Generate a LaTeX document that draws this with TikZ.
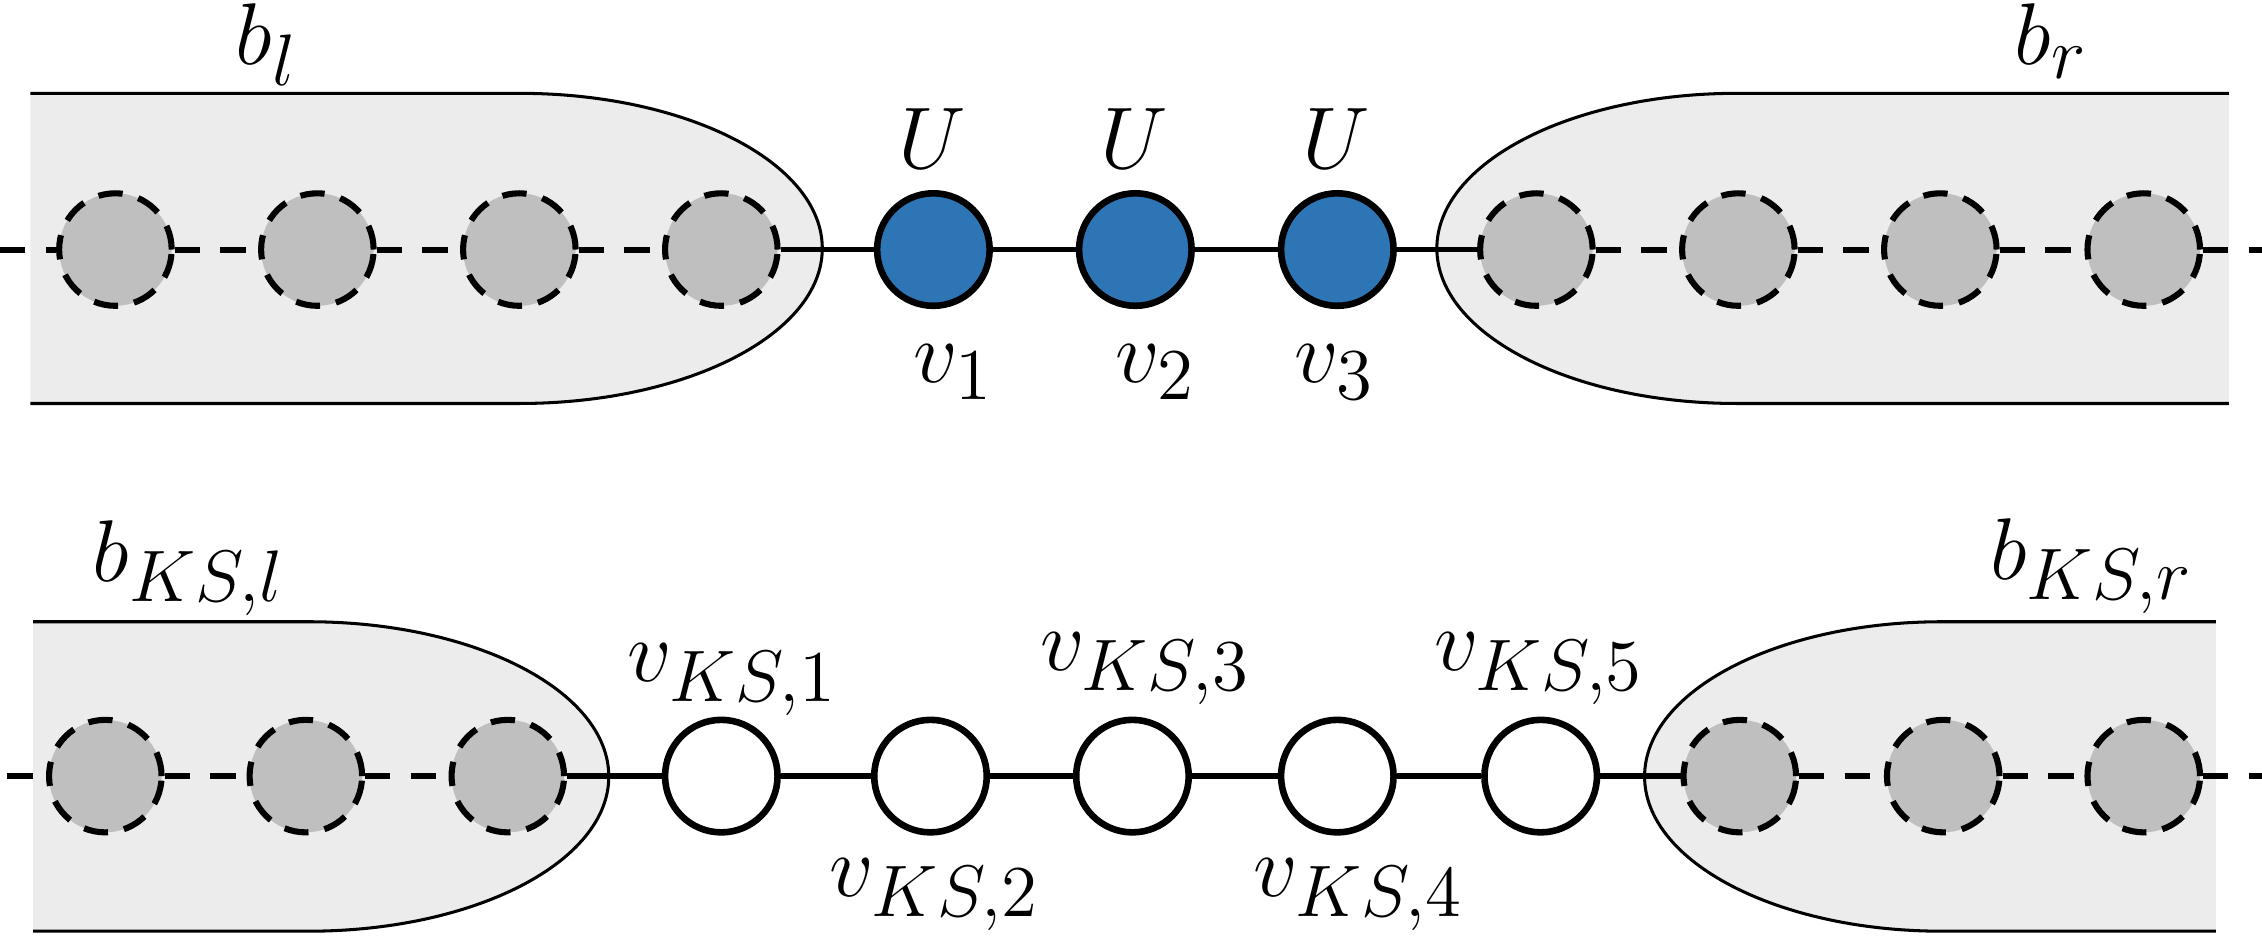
\documentclass[tikz,border=0pt]{standalone}
\usepackage{amsmath}
\usepackage{tikz}
\usetikzlibrary{calc}
\definecolor{siteblue}{HTML}{2E75B6}
\definecolor{bathgray}{HTML}{ECECEC}
\definecolor{ghostgray}{HTML}{BFBFBF}

\begin{document}
\begin{tikzpicture}[
	font=\fontsize{19}{23}\selectfont,
	bath/.style={fill=bathgray, draw=black, line width=0.6pt},
	ghost/.style={circle, minimum size=0.78cm, inner sep=0pt, fill=ghostgray, draw=black, line width=1.2pt, dash pattern=on 4.8pt off 3.2pt},
	imp/.style={circle, minimum size=0.78cm, inner sep=0pt, fill=siteblue, draw=black, line width=1.3pt},
	ks/.style={circle, minimum size=0.78cm, inner sep=0pt, fill=white, draw=black, line width=1.3pt},
	bond/.style={line width=1.1pt},
	dbond/.style={line width=1.2pt, dash pattern=on 5pt off 4pt},
	lab/.style={anchor=base}
	]
	
	\useasboundingbox (0,0) rectangle (15.68,6.5);
	
	% baths
	\draw[bath] (0.21,5.853) -- (3.60,5.853) arc[start angle=90, end angle=-90, x radius=2.10, y radius=1.075] -- (0.21,3.703);
	\draw[bath] (15.45,5.853) -- (12.04,5.853) arc[start angle=90, end angle=270, x radius=2.08, y radius=1.075] -- (15.45,3.703);
	\draw[bath] (0.23,2.19) -- (2.14,2.19) arc[start angle=90, end angle=-90, x radius=2.08, y radius=1.0725] -- (0.23,0.045);
	\draw[bath] (15.36,2.19) -- (13.46,2.19) arc[start angle=90, end angle=270, x radius=2.06, y radius=1.0725] -- (15.36,0.045);
	
	% top chain
	\coordinate (tl) at (0,4.77);
	\coordinate (tr) at (15.68,4.77);
	\foreach \x [count=\i] in {0.80,2.20,3.60,5.00}
		\node[ghost] (l\i) at (\x,4.77) {};
	\foreach \x [count=\i] in {6.47,7.87,9.27}
		\node[imp] (u\i) at (\x,4.77) {};
	\foreach \x [count=\i] in {10.65,12.05,13.45,14.86}
		\node[ghost] (r\i) at (\x,4.77) {};
	
	\draw[dbond] (tl) -- (l1) (l1) -- (l2) (l2) -- (l3) (l3) -- (l4);
	\draw[bond] (l4) -- (u1) (u1) -- (u2) (u2) -- (u3) (u3) -- (r1);
	\draw[dbond] (r1) -- (r2) (r2) -- (r3) (r3) -- (r4) (r4) -- (tr);
	
	\foreach \x [count=\i] in {6.46,7.86,9.26}
		\node[lab] (U\i) at (\x,5.335) {$U$};
	\node[lab] (v1) at (6.61,3.845) {$v_1$};
	\node[lab] (v2) at (8.01,3.845) {$v_2$};
	\node[lab] (v3) at (9.25,3.845) {$v_3$};
	\node[lab] (bl) at (1.85,6.05) {$b_l$};
	\node[lab] (br) at (14.22,6.05) {$b_r$};
	
	% bottom chain
	\coordinate (bl0) at (0.05,1.12);
	\coordinate (br0) at (15.68,1.12);
	\foreach \x [count=\i] in {0.73,2.12,3.52}
		\node[ghost] (kl\i) at (\x,1.12) {};
	\foreach \x [count=\i] in {5.00,6.45,7.85,9.27,10.68}
		\node[ks] (k\i) at (\x,1.12) {};
	\foreach \x [count=\i] in {12.06,13.47,14.86}
		\node[ghost] (kr\i) at (\x,1.12) {};
	
	\draw[dbond] (bl0) -- (kl1) (kl1) -- (kl2) (kl2) -- (kl3);
	\draw[bond] (kl3) -- (k1) (k1) -- (k2) (k2) -- (k3) (k3) -- (k4) (k4) -- (k5) (k5) -- (kr1);
	\draw[dbond] (kr1) -- (kr2) (kr2) -- (kr3) (kr3) -- (br0);
	
	\node[lab] (vks1) at (5.08,1.775) {$v_{KS,1}$};
	\node[lab] (vks2) at (6.48,0.284) {$v_{KS,2}$};
	\node[lab] (vks3) at (7.94,1.85) {$v_{KS,3}$};
	\node[lab] (vks4) at (9.42,0.284) {$v_{KS,4}$};
	\node[lab] (vks5) at (10.67,1.85) {$v_{KS,5}$};
	\node[lab] (bksl) at (1.31,2.47) {$b_{KS,l}$};
	\node[lab] (bksr) at (14.50,2.48) {$b_{KS,r}$};
	
\end{tikzpicture}
\end{document}
